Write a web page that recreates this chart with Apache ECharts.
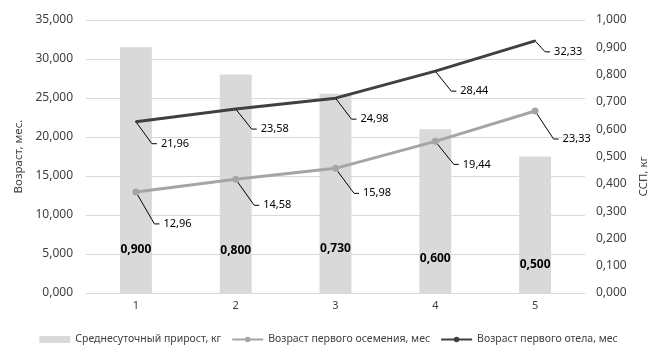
<!DOCTYPE html>
<html><head><meta charset="utf-8">
<script src="https://cdn.jsdelivr.net/npm/echarts@6/dist/echarts.min.js"></script>
<style>html,body{margin:0;padding:0;background:#fff}#c{width:657px;height:357px}</style>
</head><body><div id="c"></div>
<script>
const categories = ['1','2','3','4','5'];
const dailyGain = [0.900, 0.800, 0.730, 0.600, 0.500];
const firstInsemination = [12.96, 14.58, 15.98, 19.44, 23.33];
const firstCalving = [21.96, 23.58, 24.98, 28.44, 32.33];
const seriesNames = ['Среднесуточный прирост, кг', 'Возраст первого осемения, мес', 'Возраст первого отела, мес'];
const leftAxisName = 'Возраст, мес.';
const rightAxisName = 'ССП, кг';

const FONT = '"Noto Sans", "Liberation Sans", sans-serif';
const fmt3 = v => v.toFixed(3).replace('.', ',');
const fmt2 = p => p.value.toFixed(2).replace('.', ',');
// label layout offsets (style only)
const barDy = [-1, 0, -2, 8, 14];
const grayDy = [32, 26, 25, 23, 28];
const blackDy = [22, 20, 21, 20, 11];
const blackDx = [15, 15, 15, 15, 9];

const chart = echarts.init(document.getElementById('c'), null, {renderer: 'canvas'});
chart.setOption({
  animation: false,
  textStyle: {fontFamily: FONT},
  grid: {left: 86, right: 72, top: 20, bottom: 64, outerBoundsMode: 'none', containLabel: false},
  legend: {
    top: 329, left: 'center', itemGap: 10, itemWidth: 31, itemHeight: 7,
    textStyle: {fontFamily: FONT, fontSize: 10.5, color: '#404040'},
    data: [
      {name: seriesNames[0], icon: 'rect', itemStyle: {color: '#d9d9d9'}},
      {name: seriesNames[1]},
      {name: seriesNames[2]}
    ]
  },
  xAxis: {
    type: 'category', data: categories,
    axisTick: {show: false},
    axisLine: {lineStyle: {color: '#d9d9d9'}},
    axisLabel: {color: '#404040', fontSize: 11, margin: 7, fontFamily: FONT}
  },
  yAxis: [
    {
      type: 'value', min: 0, max: 35, interval: 5, position: 'left',
      name: leftAxisName, nameLocation: 'middle', nameGap: 61, nameRotate: 90,
      nameTextStyle: {color: '#404040', fontSize: 11.5, fontFamily: FONT},
      axisLabel: {formatter: fmt3, color: '#404040', fontSize: 12, margin: 13, fontFamily: FONT},
      axisLine: {show: false}, axisTick: {show: false},
      splitLine: {lineStyle: {color: '#d9d9d9', width: 1}}
    },
    {
      type: 'value', min: 0, max: 1, interval: 0.1, position: 'right',
      name: rightAxisName, nameLocation: 'middle', nameGap: 51, nameRotate: 90,
      nameTextStyle: {color: '#404040', fontSize: 11.5, fontFamily: FONT, padding: [0, 40, 0, 0]},
      axisLabel: {formatter: fmt3, color: '#404040', fontSize: 12, margin: 11, fontFamily: FONT},
      axisLine: {show: false}, axisTick: {show: false},
      splitLine: {show: false}
    }
  ],
  series: [
    {
      name: seriesNames[0], type: 'bar', yAxisIndex: 1, data: dailyGain,
      barWidth: '32%', itemStyle: {color: '#d9d9d9'},
      label: {show: true, position: 'insideBottom', distance: 36, fontWeight: 'bold',
        fontSize: 12, color: '#000', fontFamily: FONT, formatter: p => fmt3(p.value)},
      labelLayout: p => ({dy: barDy[p.dataIndex]})
    },
    {
      name: seriesNames[1], type: 'line', yAxisIndex: 0, data: firstInsemination,
      symbol: 'circle', symbolSize: 7,
      itemStyle: {color: '#a5a5a5'}, lineStyle: {color: '#a5a5a5', width: 3},
      label: {show: true, position: 'right', distance: 5, fontSize: 11, color: '#000',
        fontFamily: FONT, formatter: fmt2, padding: [0, 0, 0, 4], backgroundColor: 'rgba(255,255,255,0)'},
      labelLine: {show: true, length2: 5, lineStyle: {color: '#000', width: 1}},
      labelLayout: p => ({dx: 15, dy: grayDy[p.dataIndex]}),
      z: 3
    },
    {
      name: seriesNames[2], type: 'line', yAxisIndex: 0, data: firstCalving,
      symbol: 'circle', symbolSize: 2,
      itemStyle: {color: '#404040'}, lineStyle: {color: '#404040', width: 3},
      label: {show: true, position: 'right', distance: 5, fontSize: 11, color: '#000',
        fontFamily: FONT, formatter: fmt2, padding: [0, 0, 0, 4], backgroundColor: 'rgba(255,255,255,0)'},
      labelLine: {show: true, length2: 5, lineStyle: {color: '#000', width: 1}},
      labelLayout: p => ({dx: blackDx[p.dataIndex], dy: blackDy[p.dataIndex]}),
      z: 4
    }
  ]
});
</script></body></html>
